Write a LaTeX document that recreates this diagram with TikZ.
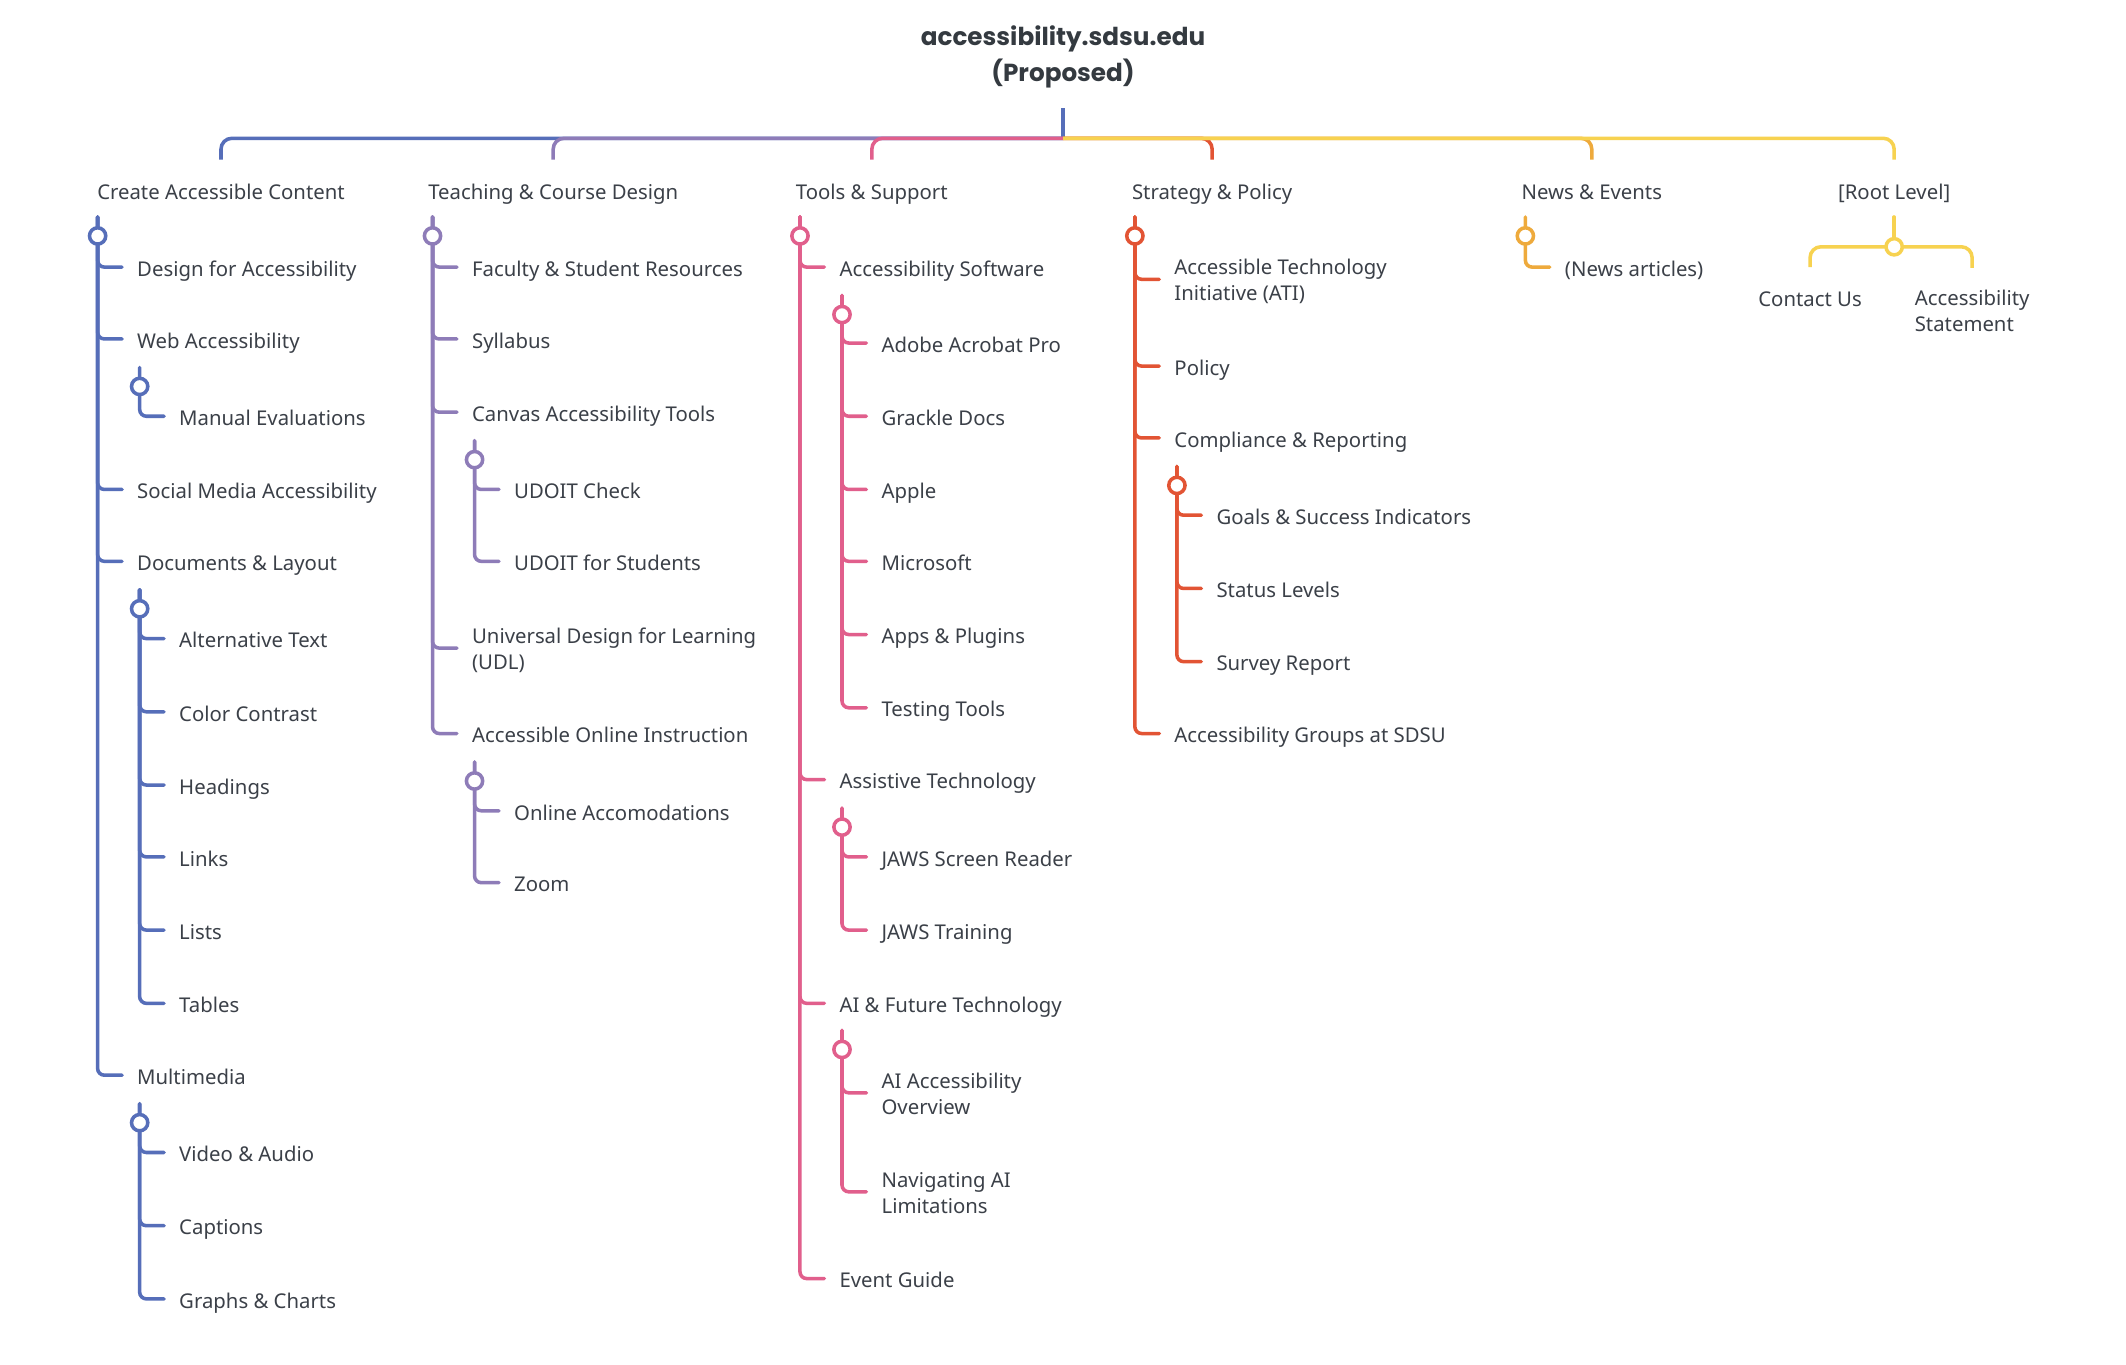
\documentclass[tikz,border=0pt]{standalone}
\usepackage{fontspec}
\setmainfont{Noto Sans}
\newfontfamily\titlefont{Poppins}
\definecolor{tc}{HTML}{3B4048}
\definecolor{ttc}{HTML}{343A40}
\definecolor{cA}{HTML}{566EB9}
\definecolor{cB}{HTML}{8E7CB8}
\definecolor{cC}{HTML}{E15F8C}
\definecolor{cD}{HTML}{E25434}
\definecolor{cE}{HTML}{EEAA3C}
\definecolor{cF}{HTML}{F7D250}
\newcommand\myelb[3]{\draw[ln,#1] (#2) |- ([xshift=-11pt]#3.west);}
\begin{document}
\begin{tikzpicture}[x=1pt,y=-1pt,
  txt/.style={text=tc, inner sep=0pt, font=\fontsize{15}{19}\selectfont, text height=13.6pt, text depth=0pt},
  lbl/.style={txt, anchor=west},
  lbltwo/.style={txt, anchor=west, align=left, text height=31.6pt},
  br/.style={txt, anchor=center},
  ln/.style={line width=2.6pt, rounded corners=5pt, line cap=round},
  bar/.style={line width=2.6pt, rounded corners=8pt},
  dot/.style={circle, draw, fill=white, line width=2.6pt, minimum size=12pt, inner sep=0pt},
]
\fill[white] (0,0) rectangle (1568,1006);
\useasboundingbox (0,0) rectangle (1568,1006);

% title
\node[font=\fontsize{18.2}{26.5}\selectfont\titlefont\bfseries, text=ttc, align=center, inner sep=0pt, anchor=base] (title) at (784,60.2) {accessibility.sdsu.edu\\(Proposed)};

% branch labels
\node[br] (A) at (163,140) {Create Accessible Content};
\node[br] (B) at (408,140) {Teaching \& Course Design};
\node[br] (C) at (643,140) {Tools \& Support};
\node[br] (D) at (894,140) {Strategy \& Policy};
\node[br] (E) at (1174,140) {News \& Events};
\node[br] (F) at (1397,140) {[Root Level]};

% column A
\node[lbl] (A1) at (101,197) {Design for Accessibility};
\node[lbl] (A2) at (101,250) {Web Accessibility};
\node[lbl] (A21) at (132,307) {Manual Evaluations};
\node[lbl] (A3) at (101,361) {Social Media Accessibility};
\node[lbl] (A4) at (101,414) {Documents \& Layout};
\node[lbl] (A41) at (132,471) {Alternative Text};
\node[lbl] (A42) at (132,525) {Color Contrast};
\node[lbl] (A43) at (132,579) {Headings};
\node[lbl] (A44) at (132,632) {Links};
\node[lbl] (A45) at (132,686) {Lists};
\node[lbl] (A46) at (132,740) {Tables};
\node[lbl] (A5) at (101,793) {Multimedia};
\node[lbl] (A51) at (132,850) {Video \& Audio};
\node[lbl] (A52) at (132,904) {Captions};
\node[lbl] (A53) at (132,958) {Graphs \& Charts};

% column B
\node[lbl] (B1) at (348,197) {Faculty \& Student Resources};
\node[lbl] (B2) at (348,250) {Syllabus};
\node[lbl] (B3) at (348,304) {Canvas Accessibility Tools};
\node[lbl] (B31) at (379,361) {UDOIT Check};
\node[lbl] (B32) at (379,414) {UDOIT for Students};
\node[lbltwo] (B4) at (348,478) {Universal Design for Learning\\(UDL)};
\node[lbl] (B5) at (348,541) {Accessible Online Instruction};
\node[lbl] (B51) at (379,598) {Online Accomodations};
\node[lbl] (B52) at (379,651) {Zoom};

% column C
\node[lbl] (C1) at (619,197) {Accessibility Software};
\node[lbl] (C11) at (650,253) {Adobe Acrobat Pro};
\node[lbl] (C12) at (650,307) {Grackle Docs};
\node[lbl] (C13) at (650,361) {Apple};
\node[lbl] (C14) at (650,414) {Microsoft};
\node[lbl] (C15) at (650,468) {Apps \& Plugins};
\node[lbl] (C16) at (650,522) {Testing Tools};
\node[lbl] (C2) at (619,575) {Assistive Technology};
\node[lbl] (C21) at (650,632) {JAWS Screen Reader};
\node[lbl] (C22) at (650,686) {JAWS Training};
\node[lbl] (C3) at (619,740) {AI \& Future Technology};
\node[lbltwo] (C31) at (650,806) {AI Accessibility\\Overview};
\node[lbltwo] (C32) at (650,879) {Navigating AI\\Limitations};
\node[lbl] (C4) at (619,943) {Event Guide};

% column D
\node[lbltwo] (D1) at (866,206) {Accessible Technology\\Initiative (ATI)};
\node[lbl] (D2) at (866,270) {Policy};
\node[lbl] (D3) at (866,323) {Compliance \& Reporting};
\node[lbl] (D31) at (897,380) {Goals \& Success Indicators};
\node[lbl] (D32) at (897,434) {Status Levels};
\node[lbl] (D33) at (897,488) {Survey Report};
\node[lbl] (D4) at (866,541) {Accessibility Groups at SDSU};

% column E
\node[lbl] (E1) at (1154,197) {(News articles)};

% column F
\node[br] (F1) at (1335,219) {Contact Us};
\node[lbltwo] (F2) at (1412,228.5) {Accessibility\\Statement};

% coordinates
\coordinate (R-top) at (784,80);
\coordinate (R-bar) at (784,102);
\coordinate (A-top) at (72,160);   \coordinate (A-dot) at (72,174);
\coordinate (A2-top) at (103,271); \coordinate (A2-dot) at (103,285);
\coordinate (A4-top) at (103,435); \coordinate (A4-dot) at (103,449);
\coordinate (A5-top) at (103,814); \coordinate (A5-dot) at (103,828);
\coordinate (B-top) at (319,160);  \coordinate (B-dot) at (319,174);
\coordinate (B3-top) at (350,325); \coordinate (B3-dot) at (350,339);
\coordinate (B5-top) at (350,562); \coordinate (B5-dot) at (350,576);
\coordinate (C-top) at (590,160);  \coordinate (C-dot) at (590,174);
\coordinate (C1-top) at (621,218); \coordinate (C1-dot) at (621,232);
\coordinate (C2-top) at (621,596); \coordinate (C2-dot) at (621,610);
\coordinate (C3-top) at (621,760); \coordinate (C3-dot) at (621,774);
\coordinate (D-top) at (837,160);  \coordinate (D-dot) at (837,174);
\coordinate (D3-top) at (868,344); \coordinate (D3-dot) at (868,358);
\coordinate (E-top) at (1125,160); \coordinate (E-dot) at (1125,174);
\coordinate (F-top) at (1397,160); \coordinate (F-dot) at (1397,182);

% root connectors
\draw[bar,cA] (R-top) -- (R-bar);
\draw[bar,cA] (R-bar) -| ([yshift=15.2pt]A.north);
\draw[bar,cB] (R-bar) -| ([yshift=15.2pt]B.north);
\draw[bar,cC] (R-bar) -| ([yshift=15.2pt]C.north);
\draw[bar,cD] (R-bar) -| ([yshift=15.2pt]D.north);
\draw[bar,cE] (R-bar) -| ([yshift=15.2pt]E.north);
\draw[bar,cF] (R-bar) -| ([yshift=15.2pt]F.north);

% column A connectors
\foreach \c in {A1,A2,A3,A4,A5} {\myelb{cA}{A-top}{\c}}
\myelb{cA}{A2-top}{A21}
\foreach \c in {A41,A42,A43,A44,A45,A46} {\myelb{cA}{A4-top}{\c}}
\foreach \c in {A51,A52,A53} {\myelb{cA}{A5-top}{\c}}
% column B
\foreach \c in {B1,B2,B3,B4,B5} {\myelb{cB}{B-top}{\c}}
\foreach \c in {B31,B32} {\myelb{cB}{B3-top}{\c}}
\foreach \c in {B51,B52} {\myelb{cB}{B5-top}{\c}}
% column C
\foreach \c in {C1,C2,C3,C4} {\myelb{cC}{C-top}{\c}}
\foreach \c in {C11,C12,C13,C14,C15,C16} {\myelb{cC}{C1-top}{\c}}
\foreach \c in {C21,C22} {\myelb{cC}{C2-top}{\c}}
\foreach \c in {C31,C32} {\myelb{cC}{C3-top}{\c}}
% column D
\foreach \c in {D1,D2,D3,D4} {\myelb{cD}{D-top}{\c}}
\foreach \c in {D31,D32,D33} {\myelb{cD}{D3-top}{\c}}
% column E
\myelb{cE}{E-top}{E1}
% column F
\draw[ln,cF] (F-top) -- (F-dot);
\draw[bar,cF] (F-dot) -| ([yshift=15pt]F1.north);
\draw[bar,cF] (F-dot) -| ([yshift=15pt]F2.north);

% dots
\foreach \d/\k in {A-dot/cA,A2-dot/cA,A4-dot/cA,A5-dot/cA,B-dot/cB,B3-dot/cB,B5-dot/cB,C-dot/cC,C1-dot/cC,C2-dot/cC,C3-dot/cC,D-dot/cD,D3-dot/cD,E-dot/cE,F-dot/cF}
  {\node[dot,draw=\k] at (\d) {};}
\end{tikzpicture}
\end{document}
